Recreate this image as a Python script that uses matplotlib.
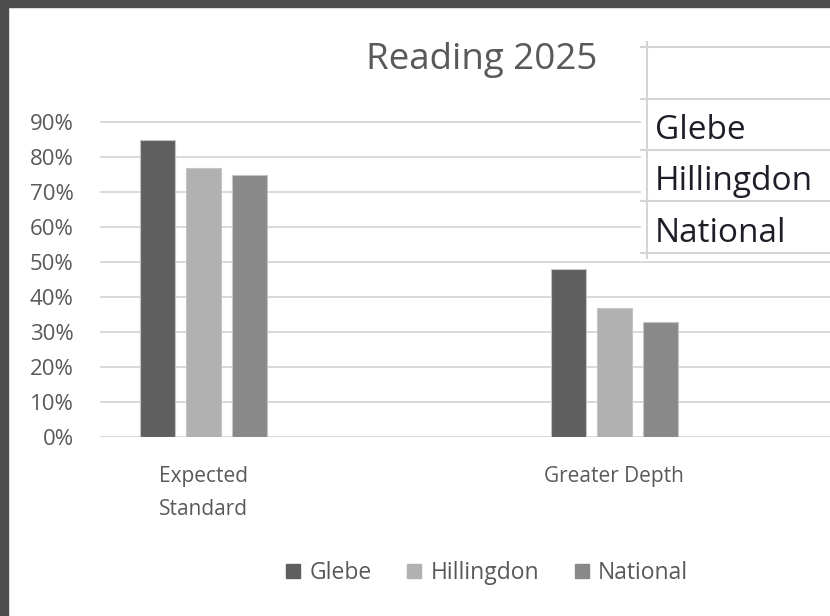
import numpy as np
import matplotlib.pyplot as plt
from matplotlib.patches import Rectangle
from matplotlib.lines import Line2D
from matplotlib.ticker import PercentFormatter

CATEGORIES = ['Expected\nStandard', 'Greater Depth']
SERIES = ['Glebe', 'Hillingdon', 'National']
GLEBE = [0.85, 0.48]
HILLINGDON = [0.77, 0.37]
NATIONAL = [0.75, 0.33]
Y_TICKS = [0, 0.1, 0.2, 0.3, 0.4, 0.5, 0.6, 0.7, 0.8, 0.9]

COLORS = ['#5f5f5f', '#b1b1b1', '#898989']
TEXT_GREY = '#595959'
GRID_GREY = '#d9d9d9'
W, H = 830, 616

plt.rcParams['font.family'] = ['Open Sans', 'DejaVu Sans']


def px(x, y):
    # pixel position (from top-left) -> figure fraction
    return x / W, 1 - y / H


fig = plt.figure(figsize=(W / 100, H / 100), dpi=100)
fig.patch.set_facecolor('white')

# dark frame along top and left edge
fig.add_artist(Rectangle((0, 1 - 7 / H), 1, 7 / H, transform=fig.transFigure,
                         color='#4d4d4d', zorder=0))
fig.add_artist(Rectangle((0, 0), 8 / W, 1, transform=fig.transFigure,
                         color='#4d4d4d', zorder=0))

ax = fig.add_axes([100 / W, 1 - 437 / H, 730 / W, (437 - 120.25) / H])
ax.set_facecolor('none')

x = np.arange(len(CATEGORIES))
width = 0.0853
offsets = [-0.112, 0.0, 0.112]
for vals, off, col, name in zip([GLEBE, HILLINGDON, NATIONAL], offsets, COLORS, SERIES):
    ax.bar(x + off, vals, width, color=col, edgecolor='#c4c4c4',
           linewidth=0.8, label=name, zorder=3)

ax.set_xlim(-0.252, 1.526)
ax.set_ylim(0, 0.905)
ax.set_yticks(Y_TICKS)
ax.yaxis.set_major_formatter(PercentFormatter(1.0, decimals=0))
ax.grid(axis='y', color=GRID_GREY, linewidth=1.4, zorder=0)
ax.set_axisbelow(True)
for s in ax.spines.values():
    s.set_visible(False)
ax.tick_params(axis='y', length=0, pad=19, labelsize=16, labelcolor=TEXT_GREY)
ax.set_xticks(x)
ax.set_xticklabels(CATEGORIES)
ax.tick_params(axis='x', length=0, pad=21, labelsize=15, labelcolor=TEXT_GREY)
for lbl in ax.get_xticklabels():
    lbl.set_verticalalignment('top')
    lbl.set_linespacing(1.75)

fig.text(*px(482, 60), 'Reading 2025', ha='center', va='center',
         fontsize=26.5, color=TEXT_GREY)

handles = [Rectangle((0, 0), 1, 1, color=c) for c in COLORS]
leg = fig.legend(handles, SERIES, loc='center', bbox_to_anchor=px(487, 573),
                 ncol=3, frameon=False, fontsize=16.5, handlelength=0.62,
                 handleheight=0.62, handletextpad=0.4, columnspacing=1.55)
for t in leg.get_texts():
    t.set_color(TEXT_GREY)

# spreadsheet cells pasted over the top right of the chart
x0, y0 = px(641, 42)
x1, y1 = px(W, 258)
fig.add_artist(Rectangle((x0, y1), x1 - x0, y0 - y1, transform=fig.transFigure,
                         facecolor='white', edgecolor='none', zorder=5))
row_lines = [47, 99, 150, 201, 253]
for ry in row_lines:
    fig.add_artist(Line2D([641 / W, 1], [1 - ry / H] * 2, transform=fig.transFigure,
                          color='#d4d4d4', linewidth=1.5, zorder=6))
fig.add_artist(Line2D([647 / W] * 2, [1 - 42 / H, 1 - 258 / H], transform=fig.transFigure,
                      color='#d4d4d4', linewidth=1.5, zorder=6))
for i, name in enumerate(SERIES):
    cy = (row_lines[i + 1] + row_lines[i + 2]) / 2 + 6
    fig.text(*px(655, cy), name, ha='left', va='center', fontsize=24,
             color='#1e1e28', zorder=7)

fig.savefig('out.png', dpi=100)
